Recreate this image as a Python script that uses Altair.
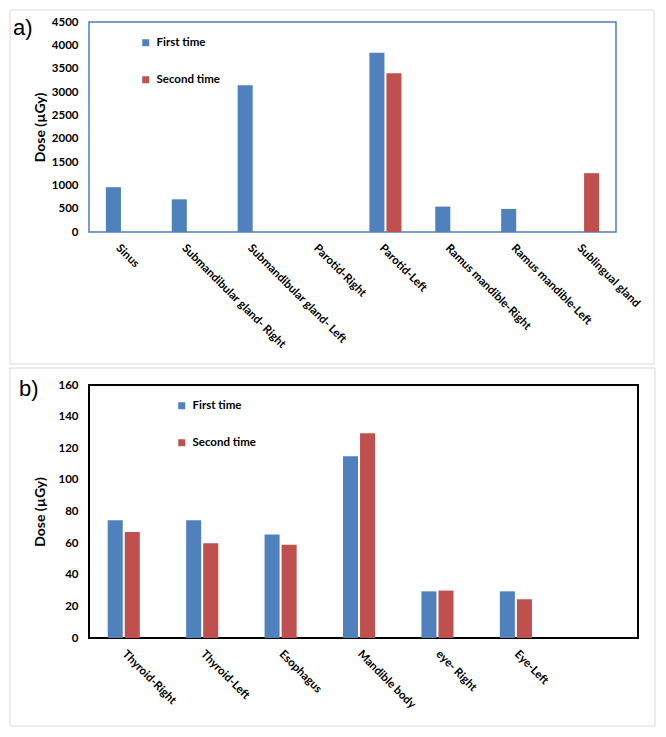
import altair as alt
import pandas as pd

series = ["First time", "Second time"]
colors = ["#4F81BD", "#C0504D"]

cats_a = ["Sinus", "Submandibular gland- Right", "Submandibular gland- Left",
          "Parotid-Right", "Parotid-Left", "Ramus mandible-Right",
          "Ramus mandible-Left", "Sublingual gland"]
first_a = [960, 700, 3145, None, 3840, 545, 495, None]
second_a = [None, None, None, None, 3400, None, None, 1260]

cats_b = ["Thyroid-Right", "Thyroid-Left", "Esophagus", "Mandible body",
          "eye- Right", "Eye-Left", " "]
first_b = [74.5, 74.5, 65.5, 115, 29.5, 29.5, None]
second_b = [67, 60, 59, 129.5, 30, 24.5, None]

ticks_a = list(range(0, 4501, 500))
ticks_b = list(range(0, 161, 20))


def long_df(cats, s1, s2):
    rows = []
    for c, a, b in zip(cats, s1, s2):
        if a is not None:
            rows.append({"organ": c, "series": series[0], "dose": a})
        if b is not None:
            rows.append({"organ": c, "series": series[1], "dose": b})
    return pd.DataFrame(rows)


FONT = "Lato"


def panel(cats, s1, s2, ticks, w, h, pin, subpin, border, bw, tag, tagx, tagy,
          lx, ly, box, title_y):
    df = long_df(cats, s1, s2)
    bars = alt.Chart(df).mark_bar().encode(
        x=alt.X("organ:N", sort=cats,
                scale=alt.Scale(domain=cats, paddingInner=pin, paddingOuter=pin / 2),
                axis=alt.Axis(title=None, labelAngle=45, labelAlign="left",
                              labelBaseline="top", labelPadding=10, ticks=False,
                              domain=False, labelFont=FONT, labelFontWeight="bold",
                              labelFontSize=11.5, labelColor="#000", labelLimit=400)),
        xOffset=alt.XOffset("series:N",
                            scale=alt.Scale(domain=series, paddingInner=subpin,
                                            paddingOuter=0)),
        y=alt.Y("dose:Q",
                scale=alt.Scale(domain=[ticks[0], ticks[-1]], nice=False),
                axis=alt.Axis(title="Dose (µGy)", values=ticks, format="d",
                              grid=False, ticks=False, domain=False, labelPadding=11,
                              labelFont=FONT, labelFontWeight="bold",
                              labelFontSize=11.5, labelColor="#000",
                              titleFont=FONT, titleFontWeight="bold",
                              titleFontSize=14, titleColor="#000",
                              titleAngle=270, titleAlign="center",
                              titleBaseline="bottom", titleX=-42, titleY=title_y)),
        color=alt.Color("series:N",
                        scale=alt.Scale(domain=series, range=colors),
                        legend=alt.Legend(title=None, orient="none", legendX=lx,
                                          legendY=ly, direction="vertical",
                                          symbolType="square", symbolSize=49,
                                          symbolStrokeWidth=0, labelFont=FONT,
                                          labelFontWeight="bold", labelFontSize=11.5,
                                          labelColor="#000", rowPadding=24,
                                          labelOffset=5, padding=0)),
    )
    one = pd.DataFrame({"t": [tag]})
    frame = alt.Chart(one).mark_rect(fillOpacity=0, stroke="#d9d9d9",
                                     strokeWidth=1).encode(
        x=alt.value(box[0]), x2=alt.value(box[1]),
        y=alt.value(box[2]), y2=alt.value(box[3]))
    label = alt.Chart(one).mark_text(font="Liberation Sans", fontSize=22,
                                     align="left", baseline="alphabetic",
                                     color="#000").encode(
        x=alt.value(tagx), y=alt.value(tagy), text="t:N")
    return alt.layer(frame, bars, label).properties(
        width=w, height=h,
        view=alt.ViewBackground(stroke=border, strokeWidth=bw))


pa = panel(cats_a, first_a, second_a, ticks_a, 527, 210, 0.513, 2 / 17,
           "#4A7EBB", 1.5, "a)", -76, 13, 51, 15, (-79, 565, -12, 342), 105)
pb = panel(cats_b, first_b, second_b, ticks_b, 549, 253, 0.477, 5 / 23,
           "#000000", 2, "b)", -70, 11, 87, 15, (-79, 566, -17, 341), 126.5)

chart = alt.vconcat(pa, pb, spacing=0).resolve_scale(
    color="independent").properties(padding=0).configure(background="white")

chart.save("out.html", embed_options={"renderer": "svg", "actions": False})
